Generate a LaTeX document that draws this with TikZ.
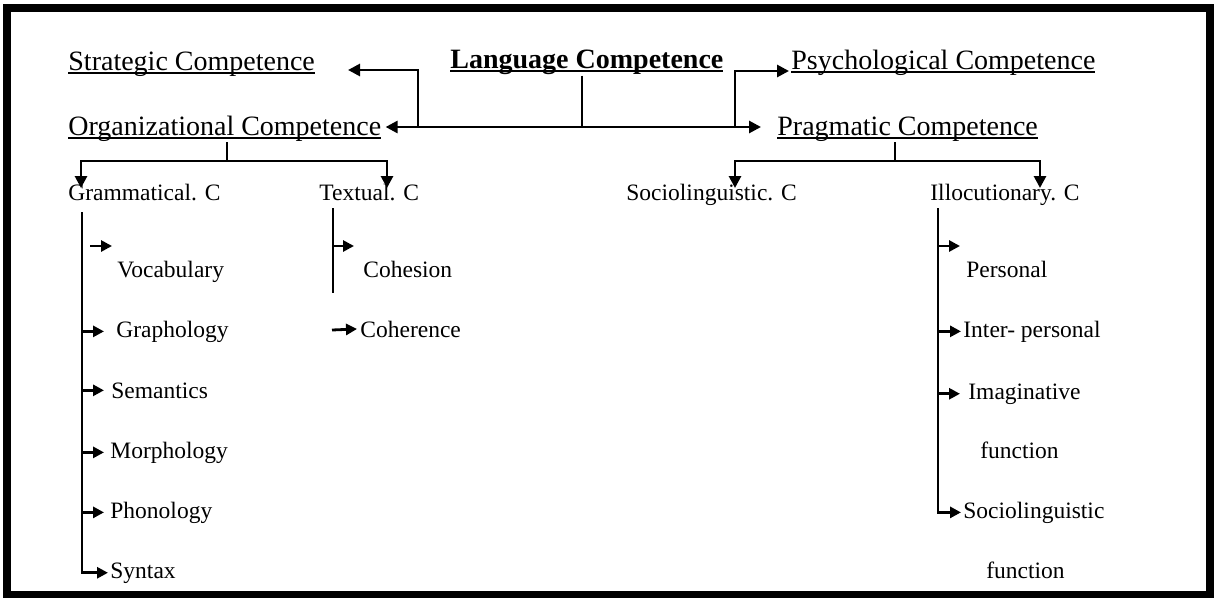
\documentclass[tikz,border=0pt]{standalone}
\usepackage{fontspec}
\setmainfont{Liberation Serif}
\usepackage{tikz}
\usetikzlibrary{arrows.meta, positioning, calc}
\newcommand{\undertext}[1]{\setbox0\hbox{#1}\rlap{\rule[-4pt]{\wd0}{1.6pt}}\box0}

\begin{document}
\begin{tikzpicture}[
    x=1pt, y=-1pt,
    line width=2.8pt,
    toptext/.style={inner sep=0pt, anchor=base west, font=\fontsize{28}{30}\selectfont},
    subtext/.style={inner sep=0pt, anchor=base west, font=\fontsize{23.5}{26}\selectfont},
    arrow/.style={-{Triangle[length=12pt,width=12pt]}},
    branch/.style={-{Triangle[length=11pt,width=11pt]}}
]
    \useasboundingbox (0,0) rectangle (1214,597);
    \draw[line width=8pt] (7,8) rectangle (1210,595);

    % Top level
    \node[toptext] (strat) at (67,70) {\undertext{Strategic Competence}};
    \node[toptext] (lang) at (449,68) {\undertext{\textbf{Language Competence}}};
    \node[toptext] (psych) at (790,69) {\undertext{Psychological Competence}};
    \node[toptext] (org) at (67,135) {\undertext{Organizational Competence}};
    \node[toptext] (prag) at (776,135) {\undertext{Pragmatic Competence}};

    % Second level
    \node[subtext] (gram) at (67,200) {Grammatical. C};
    \node[subtext] (textc) at (318,200) {Textual. C};
    \node[subtext] (socio) at (625,200) {Sociolinguistic. C};
    \node[subtext] (illoc) at (929,200) {Illocutionary. C};

    % Grammatical items
    \node[subtext] (voc) at (116,277) {Vocabulary};
    \node[subtext] (graph) at (115,337) {Graphology};
    \node[subtext] (sem) at (110,398) {Semantics};
    \node[subtext] (morph) at (109,458) {Morphology};
    \node[subtext] (phon) at (109,518) {Phonology};
    \node[subtext] (syn) at (109,578) {Syntax};

    % Textual items
    \node[subtext] (coh) at (362,277) {Cohesion};
    \node[subtext] (coher) at (359,337) {Coherence};

    % Illocutionary items
    \node[subtext] (pers) at (965,277) {Personal};
    \node[subtext] (inter) at (962,337) {Inter- personal};
    \node[subtext] (imag) at (967,399) {Imaginative};
    \node[subtext] (func) at (979,458) {function};
    \node[subtext] (sling) at (962,518) {Sociolinguistic};
    \node[subtext] (funcb) at (985,578) {function};

    % Junctions
    \coordinate (hub) at (582,127);
    \coordinate (jl) at (418,127);
    \coordinate (jr) at (735,127);
    \coordinate (stip) at (348,70);
    \coordinate (qtip) at (789,71);
    \coordinate (ptip) at (761,127);
    \coordinate (ojoin) at (227,161);
    \coordinate (gtip) at (81,188);
    \coordinate (ttip) at (387,188);
    \coordinate (pjoin) at (895,161);
    \coordinate (sotip) at (735,188);
    \coordinate (itip) at (1040,188);

    % Connections
    \draw (lang.south -| hub) -- (hub);
    \draw[arrow] (hub) -- ([xshift=3pt]hub -| org.east);
    \draw[arrow] (hub) -- (ptip);
    \draw[arrow] (jl) |- (stip);
    \draw[arrow] (jr) |- (qtip);
    \draw (org.south -| ojoin) -- (ojoin);
    \draw[arrow] (ojoin) -| (gtip);
    \draw[arrow] (ojoin) -| (ttip);
    \draw (prag.south -| pjoin) -- (pjoin);
    \draw[arrow] (pjoin) -| (sotip);
    \draw[arrow] (pjoin) -| (itip);

    % Grammatical branch
    \coordinate (gtop) at (82,212);
    \coordinate (gend) at (104,0);
    \draw[branch] (gtop) |- ([xshift=-1pt]syn.west);
    \draw[branch] (90,246) coordinate (vocarr) -- ++(22,0);
    \foreach \n in {graph,sem,morph,phon}
        \draw[branch] (gtop |- \n.west) -- (gend |- \n.west);

    % Textual branch
    \coordinate (ttop) at (333,208);
    \draw (ttop) -- ++(0,85);
    \draw[branch] (ttop |- 0,246) -- ++(21,0);
    \draw[branch] (332,330) coordinate (coharr) -- ([xshift=-2pt]coher.west);

    % Illocutionary branch
    \coordinate (itop) at (938,208);
    \draw[branch] (itop) |- ([xshift=-1pt]sling.west);
    \draw[branch] (itop |- 0,246) -- ++(22,0);
    \draw[branch] (itop |- inter.west) -- ([xshift=-1pt]inter.west);
    \draw[branch] (itop |- imag.west) -- ++(22,0);
\end{tikzpicture}
\end{document}
